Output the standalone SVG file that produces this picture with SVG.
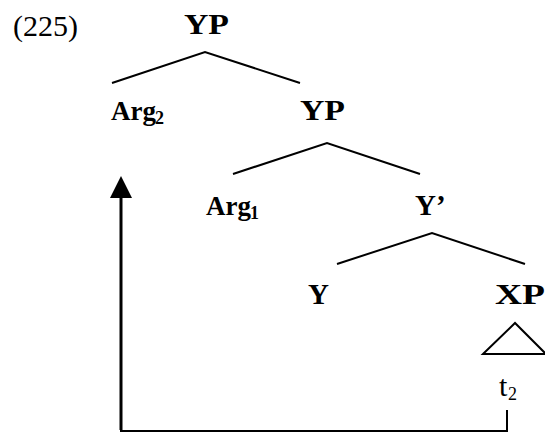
<svg xmlns="http://www.w3.org/2000/svg" width="545" height="432" viewBox="0 0 545 432">
<defs>
<style>
text{font-family:"Liberation Serif","Times New Roman",serif;fill:#000}
.n{font-weight:bold;font-size:29px}
.a{font-weight:bold;font-size:27px}
.r{font-size:30px}
.sub{font-size:18px}
.e{stroke:#000;stroke-width:2;fill:none}
</style>
</defs>
<rect width="545" height="432" fill="#fff"/>
<text class="r" x="13" y="36">(225)</text>
<g id="YP1"><text class="n" x="184" y="34" textLength="45" lengthAdjust="spacingAndGlyphs">YP</text></g>
<g id="Arg2"><text class="a" x="111" y="120">Arg</text><text class="sub" x="155" y="124" font-weight="bold">2</text></g>
<g id="YP2"><text class="n" x="300" y="120" textLength="45" lengthAdjust="spacingAndGlyphs">YP</text></g>
<g id="Arg1"><text class="a" x="206" y="215">Arg</text><text class="sub" x="250" y="219" font-weight="bold">1</text></g>
<g id="Ybar"><text class="n" x="415" y="215">Y’</text></g>
<g id="Y"><text class="n" x="308" y="304">Y</text></g>
<g id="XP"><text class="n" x="495" y="304" textLength="50" lengthAdjust="spacingAndGlyphs">XP</text></g>
<g id="t2"><text class="r" x="499" y="396">t</text><text class="sub" x="508" y="400">2</text></g>
<g id="connectors">
<path class="e" d="M112,83 L205,52 L300,83"/>
<path class="e" d="M233,174 L327,143 L420,174"/>
<path class="e" d="M337,264 L432,233 L525,264"/>
<path class="e" d="M483,354 L515,323 L546,354 Z"/>
<path class="e" d="M507,410 V431 H120"/>
<path d="M121,430 V197" stroke="#000" stroke-width="3" fill="none"/>
<path d="M110,198 L121,176 L132,198 Z" fill="#000"/>
</g>
</svg>
